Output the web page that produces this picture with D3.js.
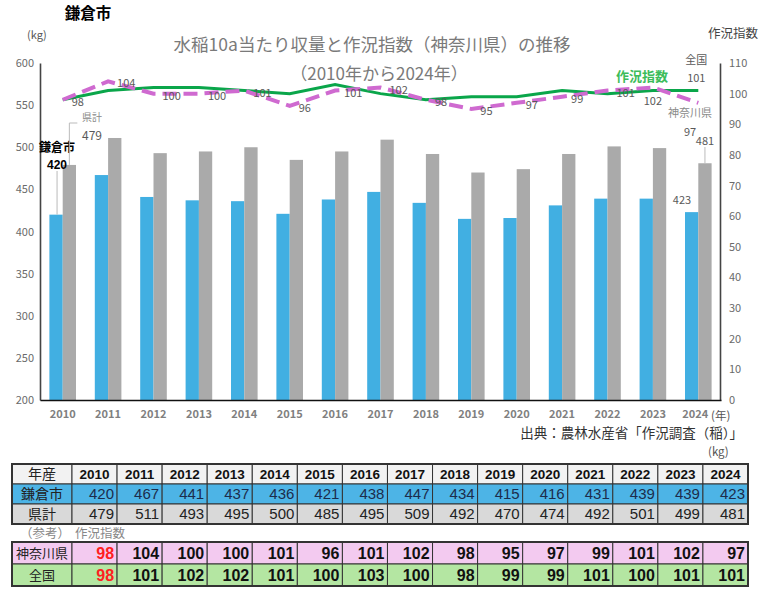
<!DOCTYPE html>
<html>
<head>
<meta charset="utf-8">
<script src="https://cdn.jsdelivr.net/npm/d3@7"></script>
<style>
  body { margin: 0; background: #fff; }
  svg { display: block; }
  text { font-family: "Noto Sans CJK JP", "Noto Sans", sans-serif; }
  .num { font-family: "Liberation Sans", Arial, sans-serif; }
</style>
</head>
<body>
<svg width="762" height="599"></svg>
<script>
const years = ["2010","2011","2012","2013","2014","2015","2016","2017","2018","2019","2020","2021","2022","2023","2024"];
const kamakura = [420, 467, 441, 437, 436, 421, 438, 447, 434, 415, 416, 431, 439, 439, 423];
const kenkei = [479, 511, 493, 495, 500, 485, 495, 509, 492, 470, 474, 492, 501, 499, 481];
const kanagawaIdx = [98, 104, 100, 100, 101, 96, 101, 102, 98, 95, 97, 99, 101, 102, 97];
const zenkokuIdx = [98, 101, 102, 102, 101, 100, 103, 100, 98, 99, 99, 101, 100, 101, 101];
const leftTicks = [200, 250, 300, 350, 400, 450, 500, 550, 600];
const rightTicks = [0, 10, 20, 30, 40, 50, 60, 70, 80, 90, 100, 110];

const svg = d3.select("svg");
const x = d3.scaleBand().domain(years).range([40, 721]).padding(0);
const yL = d3.scaleLinear().domain([200, 600]).range([400, 63]);
const yR = d3.scaleLinear().domain([0, 110]).range([400, 63]);
const bw = 13.3;
const cx = d => x(d) + x.bandwidth() / 2;

// titles
svg.append("text").attr("x", 88).attr("y", 19).attr("text-anchor", "middle")
  .attr("font-size", 15.5).attr("font-weight", "bold").text("鎌倉市");
svg.append("text").attr("x", 27).attr("y", 39).attr("font-size", 11).attr("fill", "#555").text("(kg)");
svg.append("text").attr("x", 758).attr("y", 38).attr("text-anchor", "end").attr("font-size", 12.5).attr("fill", "#444").text("作況指数");
svg.append("text").attr("x", 372).attr("y", 51).attr("text-anchor", "middle").attr("font-size", 17.5).attr("fill", "#7a7a7a")
  .text("水稲10a当たり収量と作況指数（神奈川県）の推移");
svg.append("text").attr("x", 379).attr("y", 80).attr("text-anchor", "middle").attr("font-size", 17).attr("fill", "#7a7a7a")
  .text("（2010年から2024年）");

// bars
svg.append("g").selectAll("rect").data(years).join("rect")
  .attr("x", d => cx(d) - bw).attr("width", bw)
  .attr("y", (d, i) => yL(kamakura[i])).attr("height", (d, i) => yL(200) - yL(kamakura[i]))
  .attr("fill", "#41afe2");
svg.append("g").selectAll("rect").data(years).join("rect")
  .attr("x", d => cx(d)).attr("width", bw)
  .attr("y", (d, i) => yL(kenkei[i])).attr("height", (d, i) => yL(200) - yL(kenkei[i]))
  .attr("fill", "#aaaaaa");

// axes
const axL = svg.append("g").attr("transform", "translate(40,0)")
  .call(d3.axisLeft(yL).tickValues(leftTicks).tickSize(0).tickPadding(6));
const axR = svg.append("g").attr("transform", "translate(720,0)")
  .call(d3.axisRight(yR).tickValues(rightTicks).tickSize(0).tickPadding(9));
const axB = svg.append("g").attr("transform", "translate(0,400)")
  .call(d3.axisBottom(x).tickSize(0).tickPadding(10));
[axL, axR].forEach(a => a.select(".domain").attr("stroke", "#444").attr("stroke-width", 1.6));
axB.select(".domain").attr("stroke", "#111").attr("stroke-width", 1.6);
[axL, axR, axB].forEach(a => a.selectAll("text").attr("font-family", "Lato, 'Noto Sans', sans-serif")
  .attr("font-size", 11).attr("fill", "#6a6a6a"));
axB.selectAll("text").attr("font-weight", "bold").attr("fill", "#808080");
axB.selectAll(".tick").filter(d => d === "2024").select("text").attr("dx", -3);
svg.append("text").attr("x", 711).attr("y", 420).attr("font-size", 11.5).attr("fill", "#555").text("(年)");
svg.append("text").attr("x", 743).attr("y", 438).attr("text-anchor", "end").attr("font-size", 13.5).attr("fill", "#333")
  .text("出典：農林水産省「作況調査（稲）」");
svg.append("text").attr("x", 708).attr("y", 456).attr("font-size", 11.5).attr("fill", "#555").text("(kg)");

// lines
const line = d3.line().x((d, i) => cx(years[i])).y(d => yR(d));
svg.append("path").datum(zenkokuIdx).attr("d", line).attr("fill", "none")
  .attr("stroke", "#0aa64a").attr("stroke-width", 3);
svg.append("path").datum(kanagawaIdx).attr("d", line).attr("fill", "none")
  .attr("stroke", "#cf6ad0").attr("stroke-width", 4).attr("stroke-dasharray", "14,7");

// point labels for kanagawa
svg.append("g").selectAll("text").data(kanagawaIdx.slice(0, 13)).join("text")
  .attr("x", (d, i) => cx(years[i]) + 9).attr("y", d => yR(d) + 6)
  .attr("font-family", "Lato, sans-serif").attr("font-size", 11).attr("fill", "#595959").text(d => d);
svg.append("text").attr("x", cx("2023")).attr("y", yR(kanagawaIdx[13]) + 17).attr("text-anchor", "middle")
  .attr("font-family", "Lato, sans-serif").attr("font-size", 11).attr("fill", "#595959").text(kanagawaIdx[13]);
svg.append("text").attr("x", 690).attr("y", 117).attr("text-anchor", "middle").attr("font-size", 11).attr("fill", "#8a8a8a").text("神奈川県");
svg.append("text").attr("x", 690).attr("y", 136).attr("text-anchor", "middle")
  .attr("font-family", "Lato, sans-serif").attr("font-size", 11).attr("fill", "#595959").text(kanagawaIdx[14]);
svg.append("text").attr("x", cx("2024") - 2).attr("y", 64).attr("text-anchor", "middle").attr("font-size", 11).attr("fill", "#595959").text("全国");
svg.append("text").attr("x", cx("2024") - 2).attr("y", yR(zenkokuIdx[14]) - 9).attr("text-anchor", "middle")
  .attr("font-family", "Lato, sans-serif").attr("font-size", 11).attr("fill", "#595959").text(zenkokuIdx[14]);
svg.append("text").attr("x", 642).attr("y", 81).attr("text-anchor", "middle").attr("font-size", 13)
  .attr("font-weight", "bold").attr("fill", "#3cbc5a").text("作況指数");

// bar annotations
const bx0 = cx("2010") - bw / 2, gx0 = cx("2010") + bw / 2;
svg.append("line").attr("x1", bx0 + 1).attr("x2", bx0 + 1).attr("y1", 171).attr("y2", yL(kamakura[0])).attr("stroke", "#bbb");
svg.append("text").attr("x", 57).attr("y", 152).attr("text-anchor", "middle").attr("font-size", 12).attr("font-weight", "bold").text("鎌倉市");
svg.append("text").attr("x", 57).attr("y", 169).attr("text-anchor", "middle").attr("class", "num")
  .attr("font-size", 12).attr("font-weight", "bold").text(kamakura[0]);
svg.append("path").attr("d", `M${gx0 + 8},123H${gx0}V${yL(kenkei[0])}`).attr("fill", "none").attr("stroke", "#bbb");
svg.append("text").attr("x", 92).attr("y", 121).attr("text-anchor", "middle").attr("font-size", 10).attr("fill", "#8a8a8a").text("県計");
svg.append("text").attr("x", 92).attr("y", 140).attr("text-anchor", "middle")
  .attr("font-family", "Lato, sans-serif").attr("font-size", 12).attr("fill", "#595959").text(kenkei[0]);
const gx14 = cx("2024") + bw / 2;
svg.append("line").attr("x1", gx14).attr("x2", gx14).attr("y1", 147).attr("y2", yL(kenkei[14])).attr("stroke", "#bbb");
svg.append("text").attr("x", 705).attr("y", 145).attr("text-anchor", "middle")
  .attr("font-family", "Lato, sans-serif").attr("font-size", 11).attr("fill", "#595959").text(kenkei[14]);
svg.append("text").attr("x", 682).attr("y", 204).attr("text-anchor", "middle")
  .attr("font-family", "Lato, sans-serif").attr("font-size", 11).attr("fill", "#595959").text(kamakura[14]);

// tables
const tx = d3.scaleBand().domain(years).range([72, 748]);
function table(rows, top, rh) {
  rows.forEach((r, k) => {
    const y0 = top + k * rh;
    const g = svg.append("g");
    g.append("rect").attr("x", 12).attr("y", y0).attr("width", 60).attr("height", rh)
      .attr("fill", r.bg).attr("stroke", "#333");
    g.append("text").attr("x", 42).attr("y", y0 + rh / 2 + 5).attr("text-anchor", "middle")
      .attr("font-size", r.lsize).attr("fill", "#222").text(r.label);
    g.selectAll("rect.c").data(r.vals).join("rect").attr("class", "c")
      .attr("x", (d, i) => tx(years[i])).attr("y", y0).attr("width", tx.bandwidth()).attr("height", rh)
      .attr("fill", r.bg).attr("stroke", "#333");
    g.selectAll("text.v").data(r.vals).join("text").attr("class", "v num")
      .attr("x", (d, i) => r.head ? tx(years[i]) + tx.bandwidth() / 2 : tx(years[i]) + tx.bandwidth() - 3)
      .attr("y", y0 + rh / 2 + r.size * 0.36)
      .attr("text-anchor", r.head ? "middle" : "end")
      .attr("font-size", r.size).attr("font-weight", r.bold ? "bold" : "normal")
      .attr("fill", (d, i) => (r.red && i === 0) ? "#ff2020" : r.color)
      .text(d => d);
  });
  svg.append("rect").attr("x", 12).attr("y", top).attr("width", 736).attr("height", rh * rows.length)
    .attr("fill", "none").attr("stroke", "#333").attr("stroke-width", 2);
}
table([
  {label: "年産", vals: years, bg: "#f2f2f2", head: true, bold: true, size: 13.5, lsize: 14, color: "#111"},
  {label: "鎌倉市", vals: kamakura, bg: "#4db4e6", size: 15, lsize: 14, color: "#1c2c4c"},
  {label: "県計", vals: kenkei, bg: "#d9d9d9", size: 15, lsize: 14, color: "#222"}
], 464, 20);
svg.append("text").attr("x", 20).attr("y", 538).attr("font-size", 12.5).attr("fill", "#888").text("（参考）");
svg.append("text").attr("x", 75).attr("y", 538).attr("font-size", 12.5).attr("fill", "#888").text("作況指数");
table([
  {label: "神奈川県", vals: kanagawaIdx, bg: "#f3caf0", bold: true, red: true, size: 16, lsize: 13, color: "#111"},
  {label: "全国", vals: zenkokuIdx, bg: "#b4e6a2", bold: true, red: true, size: 16, lsize: 13, color: "#111"}
], 542, 22);
</script>
</body>
</html>
